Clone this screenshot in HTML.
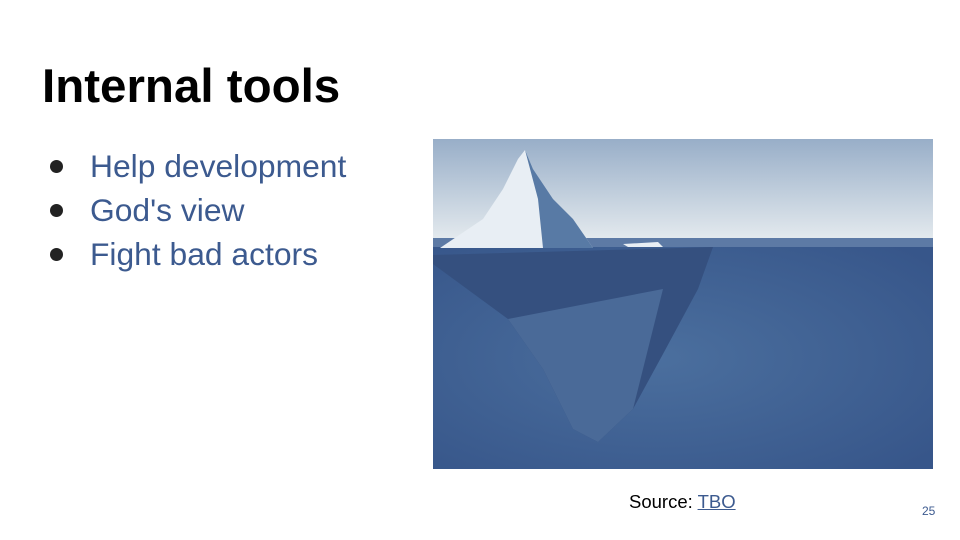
<!DOCTYPE html>
<html><head><meta charset="utf-8"><style>
body{margin:0;width:960px;height:540px;background:#fff;position:relative;overflow:hidden;font-family:"Liberation Sans",Arial,sans-serif}
h1{position:absolute;left:42px;top:63px;margin:0;font-size:47.5px;font-weight:bold;color:#000;line-height:1}
ul{position:absolute;left:48px;top:144px;margin:0;padding:0;list-style:none}
li{font-size:31.8px;color:#3c5a8f;height:44px;line-height:44px;position:relative;padding-left:42px}
li:before{content:"";position:absolute;left:2px;top:16px;width:13px;height:13px;border-radius:50%;background:#222}
.src{position:absolute;left:629px;top:491px;font-size:18.5px;color:#000}
.src span{color:#3c5a8f;text-decoration:underline}
.pg{position:absolute;left:922px;top:504px;font-size:12px;color:#3c5a8f}
svg{position:absolute;left:433px;top:139px}
</style></head><body>
<h1>Internal tools</h1>
<ul><li>Help development</li><li>God's view</li><li>Fight bad actors</li></ul>
<svg width="500" height="330" viewBox="0 0 500 330">
<defs>
<linearGradient id="sky" x1="0" y1="0" x2="0" y2="1"><stop offset="0" stop-color="#98aec8"/><stop offset="1" stop-color="#e4eaee"/></linearGradient>
<radialGradient id="sea" cx="0.45" cy="0.5" r="0.7"><stop offset="0" stop-color="#4b6f9e"/><stop offset="1" stop-color="#37568a"/></radialGradient>
</defs>
<rect width="500" height="101" fill="url(#sky)"/>
<rect y="99" width="500" height="10" fill="#5d7aa5"/>
<rect y="108" width="500" height="222" fill="url(#sea)"/>
<polygon points="0,116 280,108 265,150 230,215 200,270 165,303 140,290 110,230 75,180 0,125" fill="#35507f"/>
<polygon points="75,180 230,150 200,270 165,303 140,290 110,230" fill="#4a6a98"/>
<polygon points="7,109 50,80 70,50 85,20 92,11 100,30 120,60 140,80 160,109" fill="#e8eef4"/>
<polygon points="92,11 100,30 120,60 140,80 160,109 110,109 105,60" fill="#587aa5"/>
<polygon points="190,105 225,103 230,108 195,108" fill="#e8eef4"/>
</svg>
<div class="src">Source: <span>TBO</span></div>
<div class="pg">25</div>
</body></html>
